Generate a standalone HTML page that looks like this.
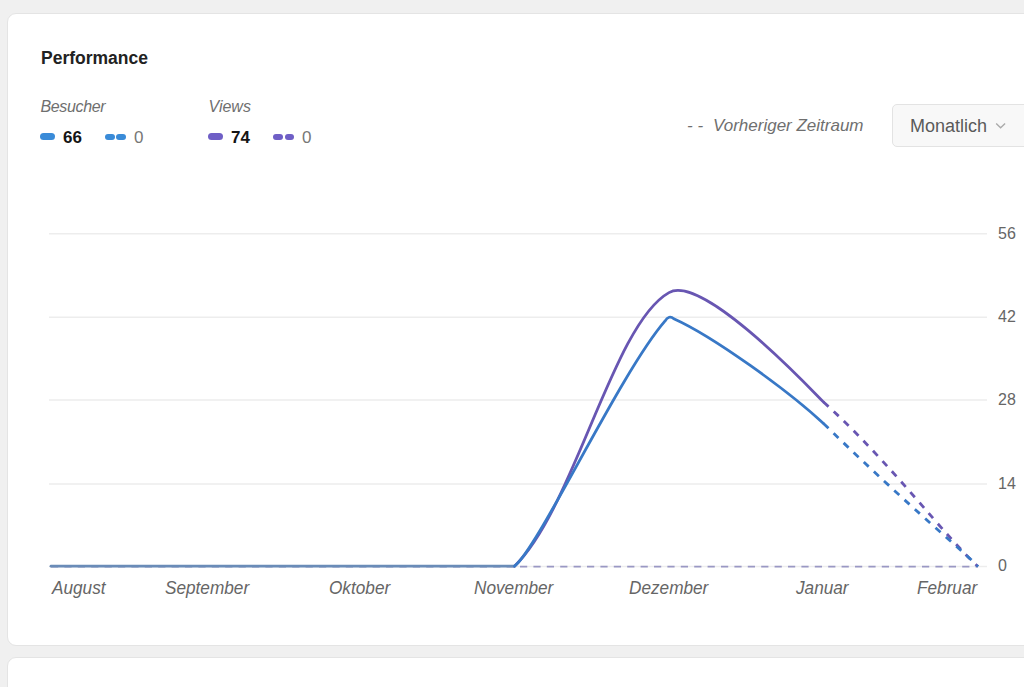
<!DOCTYPE html>
<html><head><meta charset="utf-8">
<style>
html,body{margin:0;padding:0;}
body{width:1024px;height:687px;overflow:hidden;background:#f0f0f0;position:relative;font-family:"Liberation Sans",sans-serif;}
.card{position:absolute;left:7px;top:13px;width:1040px;height:631px;background:#fff;border:1px solid #e4e4e4;border-radius:9px;}
.card2{position:absolute;left:7px;top:657px;width:1040px;height:60px;background:#fff;border:1px solid #e4e4e4;border-radius:9px;}
.t{position:absolute;white-space:nowrap;line-height:1;}
.title{left:41px;top:50px;font-size:17.5px;font-weight:bold;color:#222;}
.lab{font-style:italic;font-size:16px;color:#6f6f6f;}
.num{font-size:17px;font-weight:bold;color:#151515;}
.zero{font-size:17px;color:#777;}
.pill{position:absolute;height:6px;border-radius:3px;}
.drop{position:absolute;left:892px;top:104px;width:160px;height:43px;background:#f8f8f8;border:1px solid #e3e3e3;border-radius:5px;box-sizing:border-box;}
.ax{font-size:16px;color:#666;}
.xl{font-size:19px;font-style:italic;color:#666;transform:scaleX(0.905);transform-origin:0 0;}
</style></head>
<body>
<div class="card"></div>
<div class="card2"></div>

<div class="t title">Performance</div>

<div class="t lab" style="left:40.5px;top:98.5px;letter-spacing:-0.35px;">Besucher</div>
<div class="pill" style="left:40.3px;top:133px;width:15px;height:7px;border-radius:3.5px;background:#3a8bd8;"></div>
<div class="t num" style="left:63px;top:129px;">66</div>
<div class="pill" style="left:105.2px;top:133.6px;width:9.4px;background:#3a8bd8;"></div>
<div class="pill" style="left:116.4px;top:133.6px;width:9.5px;background:#3a8bd8;"></div>
<div class="t zero" style="left:134px;top:129px;">0</div>

<div class="t lab" style="left:208.5px;top:98.5px;">Views</div>
<div class="pill" style="left:208.3px;top:133px;width:15px;height:7px;border-radius:3.5px;background:#6f5fc6;"></div>
<div class="t num" style="left:231px;top:129px;">74</div>
<div class="pill" style="left:273.4px;top:133.6px;width:9.4px;background:#6f5fc6;"></div>
<div class="pill" style="left:284.6px;top:133.6px;width:9.5px;background:#6f5fc6;"></div>
<div class="t zero" style="left:302px;top:129px;">0</div>

<div class="t lab" style="left:687px;top:117px;font-size:17px;">- -</div>
<div class="t lab" style="left:713px;top:117px;font-size:17px;">Vorheriger Zeitraum</div>

<div class="drop"></div>
<div class="t" style="left:910px;top:117.2px;font-size:18px;color:#5a5a5a;">Monatlich</div>
<svg style="position:absolute;left:0;top:0" width="1024" height="687">
  <polyline points="996.2,123.6 1000.6,127.8 1005.1,123.6" fill="none" stroke="#aaaaaa" stroke-width="1.4"/>
</svg>

<svg style="position:absolute;left:0;top:0" width="1024" height="687">
  <g stroke="#ededed" stroke-width="1.5">
    <line x1="49" y1="233.7" x2="987" y2="233.7"/>
    <line x1="49" y1="317.3" x2="987" y2="317.3"/>
    <line x1="49" y1="400" x2="987" y2="400"/>
    <line x1="49" y1="484" x2="987" y2="484"/>
    <line x1="49" y1="566.5" x2="987" y2="566.5"/>
  </g>
  <line x1="51" y1="566.6" x2="978" y2="566.6" stroke="#9a98c4" stroke-width="1.6" stroke-dasharray="7.2 6.2"/>
  <g fill="none" stroke-width="2.8" stroke-linecap="round" stroke-linejoin="round">
    <path stroke="#6856b2" d="M514.5,566.2 C574.5,507.8 612.8,324.0 669.0,292.6 C703.5,273.1 818.3,397.4 823.5,402.0"/>
    <path stroke="#6856b2" stroke-dasharray="6.8 7.1" stroke-linecap="butt" d="M823.5,402.0 C890.8,462.7 944.5,536.2 978,566.5"/>
    <path stroke="#6a8cb8" d="M51,566.2 L514.5,566.2"/>
    <path stroke="#3878c6" d="M514.5,566.2 C538.8,547.4 620.0,373.2 664.9,321.2 Q669.0,314.5 673.8,318.7 C713.4,336.5 788.1,390.6 823.5,423.5"/>
    <path stroke="#3878c6" stroke-dasharray="6.8 7.1" stroke-linecap="butt" d="M823.5,423.5 C913.9,511.3 964.7,552.1 978,566.5"/>
  </g>
</svg>

<div class="t ax" style="left:998px;top:226px;">56</div>
<div class="t ax" style="left:998px;top:309px;">42</div>
<div class="t ax" style="left:998px;top:392px;">28</div>
<div class="t ax" style="left:998px;top:476px;">14</div>
<div class="t ax" style="left:998px;top:558px;">0</div>

<div class="t xl" style="left:51.5px;top:578px;">August</div>
<div class="t xl" style="left:164.5px;top:578px;">September</div>
<div class="t xl" style="left:329px;top:578px;">Oktober</div>
<div class="t xl" style="left:474px;top:578px;">November</div>
<div class="t xl" style="left:629px;top:578px;">Dezember</div>
<div class="t xl" style="left:796px;top:578px;">Januar</div>
<div class="t xl" style="left:917px;top:578px;">Februar</div>
</body></html>
